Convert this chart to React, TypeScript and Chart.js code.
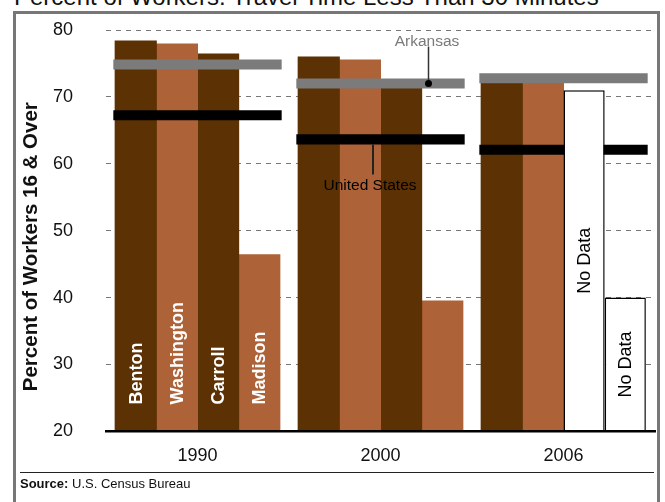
import React, { useEffect, useRef } from 'react';
import { Chart, registerables } from 'chart.js';

Chart.register(...registerables);

const years = ['1990', '2000', '2006'];
const countyNames = ['Benton', 'Washington', 'Carroll', 'Madison'];
const benton = [78.35, 75.95, 72.4];
const washington = [77.9, 75.5, 72.0];
const carroll = [76.4, 72.5, null];
const madison = [46.4, 39.5, null];
const arkansas = [74.85, 72.0, 72.8];
const unitedStates = [67.25, 63.65, 62.1];
const noDataCarroll = [null, null, 71.0];
const noDataMadison = [null, null, 40.0];
const emptySlot = [null, null, null];
const yMin = 20;
const yMax = 80;
const yStep = 10;
const refHalf = 0.75;

const DARK = '#5c3103';
const LIGHT = '#ae6237';
const GRAY = '#7b7b7b';
const FONT = '"Liberation Sans", Arial, Helvetica, sans-serif';

// dataset indices
const COUNTY_IDX = [4, 5, 6, 7];
const NODATA_IDX = [2, 3];

const labelPlugin = {
  id: 'customLabels',
  afterDatasetsDraw(chart: any) {
    const ctx = chart.ctx;
    const y = chart.scales.y;
    const x = chart.scales.x;
    const base = y.getPixelForValue(yMin);
    ctx.save();
    // county names inside 1990 bars
    ctx.fillStyle = '#ffffff';
    ctx.font = `bold 18px ${FONT}`;
    ctx.textAlign = 'left';
    ctx.textBaseline = 'middle';
    for (let i = 0; i < 4; i++) {
      const el = chart.getDatasetMeta(COUNTY_IDX[i]).data[0];
      ctx.save();
      ctx.translate(el.x, base - 27);
      ctx.rotate(-Math.PI / 2);
      ctx.fillText(countyNames[i], 0, 1);
      ctx.restore();
    }
    // No Data labels
    ctx.fillStyle = '#000000';
    ctx.font = `18px ${FONT}`;
    ctx.textAlign = 'center';
    for (const di of NODATA_IDX) {
      const el = chart.getDatasetMeta(di).data[2];
      ctx.save();
      ctx.translate(el.x, (el.y + base) / 2);
      ctx.rotate(-Math.PI / 2);
      ctx.fillText('No Data', 0, 1);
      ctx.restore();
    }
    // Arkansas annotation
    const cx = x.getPixelForValue(1);
    const arkY = y.getPixelForValue(arkansas[1]);
    ctx.strokeStyle = '#333333';
    ctx.lineWidth = 1.5;
    ctx.beginPath();
    ctx.moveTo(cx + 48, arkY - 37);
    ctx.lineTo(cx + 48, arkY);
    ctx.stroke();
    ctx.fillStyle = '#000000';
    ctx.beginPath();
    ctx.arc(cx + 48, arkY, 3.5, 0, Math.PI * 2);
    ctx.fill();
    ctx.fillStyle = '#7a7a7a';
    ctx.font = `15.5px ${FONT}`;
    ctx.textAlign = 'center';
    ctx.textBaseline = 'alphabetic';
    ctx.fillText('Arkansas', cx + 46.5, arkY - 38);
    // United States annotation
    const usY = y.getPixelForValue(unitedStates[1]);
    ctx.strokeStyle = '#222222';
    ctx.lineWidth = 2;
    ctx.beginPath();
    ctx.moveTo(cx - 7.5, usY + 5);
    ctx.lineTo(cx - 7.5, usY + 35);
    ctx.stroke();
    ctx.fillStyle = '#000000';
    ctx.fillText('United States', cx - 10.5, usY + 51);
    // y axis title
    const area = chart.chartArea;
    ctx.save();
    ctx.translate(15, (area.top + area.bottom) / 2 + 16);
    ctx.rotate(-Math.PI / 2);
    ctx.font = `bold 20.5px ${FONT}`;
    ctx.fillStyle = '#111111';
    ctx.textAlign = 'center';
    ctx.textBaseline = 'middle';
    ctx.fillText('Percent of Workers 16 & Over', 0, 0);
    ctx.restore();
    ctx.restore();
  },
};

export default function App() {
  const ref = useRef<HTMLCanvasElement | null>(null);
  useEffect(() => {
    if (!ref.current) return;
    const countyBar = (label: string, data: any[], color: string, stack: string) => ({
      type: 'bar' as const,
      label,
      data,
      stack,
      backgroundColor: color,
      borderWidth: 0,
      inflateAmount: 0.5,
      categoryPercentage: 0.9,
      barPercentage: 1,
      order: 2,
    });
    const refBar = (label: string, data: number[], color: string) => ({
      type: 'bar' as const,
      label,
      data: data.map((v) => [v - refHalf, v + refHalf]),
      backgroundColor: color,
      borderWidth: 0,
      borderSkipped: false,
      grouped: false,
      categoryPercentage: 0.92,
      barPercentage: 1,
      order: 1,
    });
    const overlayBar = (label: string, data: any[], fill: string, border: number, stack: string) => ({
      type: 'bar' as const,
      label,
      data,
      stack,
      backgroundColor: fill,
      borderColor: '#000000',
      borderWidth: border,
      borderSkipped: 'bottom',
      categoryPercentage: 0.9,
      barPercentage: 1,
      order: 0,
    });
    const chart = new Chart(ref.current, {
      type: 'bar',
      data: {
        labels: years,
        datasets: [
          overlayBar('slot B', emptySlot, 'rgba(0,0,0,0)', 0, 'b'),
          overlayBar('slot W', emptySlot, 'rgba(0,0,0,0)', 0, 'w'),
          overlayBar('Carroll No Data', noDataCarroll, '#ffffff', 1.5, 'c'),
          overlayBar('Madison No Data', noDataMadison, '#ffffff', 1.5, 'm'),
          countyBar('Benton', benton, DARK, 'b'),
          countyBar('Washington', washington, LIGHT, 'w'),
          countyBar('Carroll', carroll, DARK, 'c'),
          countyBar('Madison', madison, LIGHT, 'm'),
          refBar('Arkansas', arkansas, GRAY),
          refBar('United States', unitedStates, '#000000'),
        ] as any,
      },
      options: {
        animation: false,
        responsive: false,
        maintainAspectRatio: false,
        events: [],
        layout: { padding: { left: 0, right: 1, top: 16, bottom: 4 } },
        plugins: {
          legend: { display: false },
          tooltip: { enabled: false },
          title: { display: false },
        },
        scales: {
          x: {
            type: 'category',
            offset: true,
            grid: { display: false, drawTicks: false },
            border: { display: true, color: '#000000', width: 2.5, z: 1 },
            ticks: { color: '#111111', font: { family: FONT, size: 18 }, padding: 14, maxRotation: 0 },
          },
          y: {
            type: 'linear',
            min: yMin,
            max: yMax,
            stacked: false,
            afterFit(scale: any) {
              scale.width = 90;
            },
            grid: { color: '#777777', lineWidth: 1, drawTicks: true, tickLength: 33, tickColor: 'rgba(0,0,0,0)' },
            border: { display: false, dash: [5, 5] },
            ticks: { stepSize: yStep, padding: 0, color: '#111111', font: { family: FONT, size: 18 } },
          },
        } as any,
      },
      plugins: [labelPlugin],
    });
    return () => chart.destroy();
  }, []);

  return (
    <div style={{ position: 'absolute', left: 0, top: 0, width: 665, height: 502, overflow: 'hidden', background: '#ffffff', fontFamily: FONT }}>
      <div style={{ position: 'absolute', left: 14, top: -15, fontSize: 24, lineHeight: '24px', color: '#111111', whiteSpace: 'nowrap' }}>
        Percent of Workers: Travel Time Less Than 30 Minutes
      </div>
      <div style={{ position: 'absolute', left: 13, top: 11, width: 641, height: 520, border: '3px solid #777777' }} />
      <canvas ref={ref} width={640} height={471} style={{ position: 'absolute', left: 16, top: 14, width: 640, height: 471 }} />
      <div style={{ position: 'absolute', left: 20, top: 472, width: 634, height: 1, background: '#222222' }} />
      <div style={{ position: 'absolute', left: 20, top: 477, fontSize: 13, lineHeight: '13px', color: '#111111', whiteSpace: 'nowrap' }}>
        <b>Source:</b> U.S. Census Bureau
      </div>
    </div>
  );
}
